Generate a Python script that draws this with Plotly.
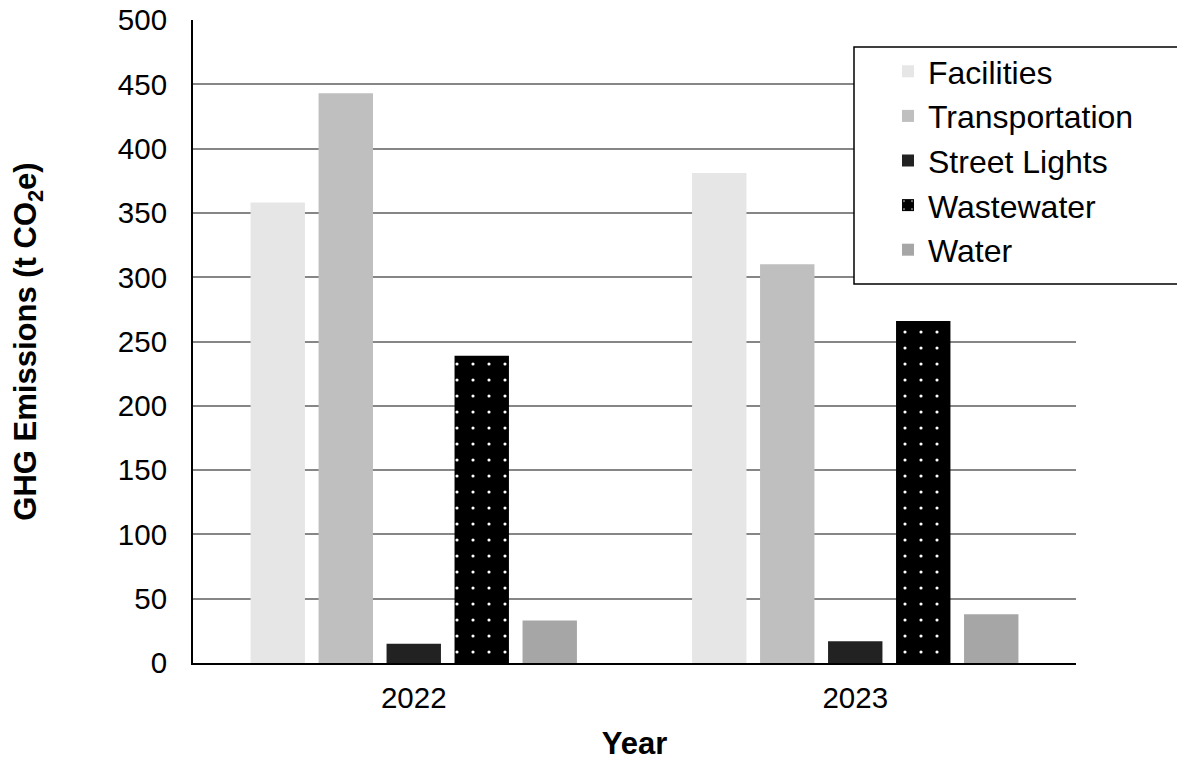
import plotly.graph_objects as go

years = ["2022", "2023"]
facilities = [358, 381]
transportation = [443, 310]
street_lights = [15, 17]
wastewater = [239, 266]
water = [33, 38]

series = [
    ("Facilities", facilities, "#e6e6e6", None),
    ("Transportation", transportation, "#bfbfbf", None),
    ("Street Lights", street_lights, "#222222", None),
    ("Wastewater", wastewater, "#000000",
     dict(shape=".", bgcolor="#000000", fgcolor="#ffffff", size=16, solidity=0.03, fillmode="replace")),
    ("Water", water, "#a6a6a6", None),
]

font_family = "Liberation Sans, Arial, sans-serif"

fig = go.Figure()
for name, vals, color, pattern in series:
    marker = dict(color=color, line=dict(width=0))
    if pattern:
        marker["pattern"] = pattern
    fig.add_trace(go.Bar(name=name, x=years, y=vals, marker=marker))

# legend frame running off the right edge of the page
fig.add_shape(type="rect", xref="paper", yref="paper",
              x0=(854 - 193) / 883, x1=1.2, y0=(663 - 284) / 643, y1=(663 - 47) / 643,
              line=dict(color="#000000", width=1.5), fillcolor="#ffffff", layer="above")

fig.update_layout(
    width=1177, height=761,
    margin=dict(l=193, r=101, t=20, b=98),
    paper_bgcolor="#ffffff", plot_bgcolor="#ffffff",
    barmode="group", bargap=0.23, bargroupgap=0.2,
    font=dict(family=font_family, size=29.5, color="#000000"),
    showlegend=True,
    legend=dict(x=(888 - 193) / 883, xanchor="left", y=(663 - 44) / 643, yanchor="top",
                bgcolor="rgba(0,0,0,0)", borderwidth=0,
                font=dict(size=32, family=font_family, color="#000000"),
                traceorder="normal"),
    xaxis=dict(showline=True, linecolor="#000000", linewidth=2, ticks="",
               showgrid=False, ticklabelstandoff=8, automargin=False,
               tickfont=dict(size=29.5),
               title=dict(text="<b>Year</b>", standoff=21, font=dict(size=31))),
    yaxis=dict(range=[0, 500], dtick=50, tick0=0, showline=True, linecolor="#000000",
               linewidth=2, ticks="", showgrid=True, gridcolor="#868686", gridwidth=2,
               zeroline=False, ticklabelstandoff=18, automargin=False,
               tickfont=dict(size=29.5),
               title=dict(text="<b>GHG Emissions (t CO<sub>2</sub>e)</b>", standoff=72,
                          font=dict(size=31))),
)

fig.write_html("out.html")
